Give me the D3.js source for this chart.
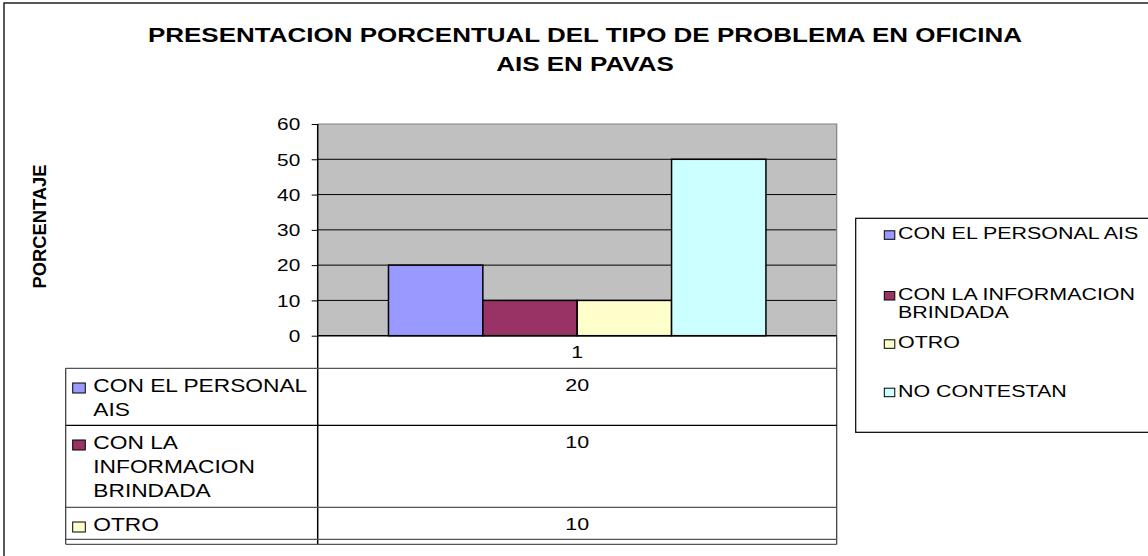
<!DOCTYPE html>
<html>
<head>
<meta charset="utf-8">
<script src="https://cdn.jsdelivr.net/npm/d3@7"></script>
<style>
  html, body { margin: 0; padding: 0; background: #fff; }
  svg { display: block; }
  text { font-family: "Liberation Sans", Arial, sans-serif; fill: #000; }
</style>
</head>
<body>
<svg id="chart" width="1148" height="556"></svg>
<script>
// ---------------- data ----------------
const categories = ["1"];
const seriesNames = ["CON EL PERSONAL AIS", "CON LA INFORMACION BRINDADA", "OTRO", "NO CONTESTAN"];
const seriesValues = [20, 10, 10, 50];
const seriesColors = ["#9999FF", "#993366", "#FFFFCC", "#CCFFFF"];
const yTicks = [0, 10, 20, 30, 40, 50, 60];
const titleLines = ["PRESENTACION PORCENTUAL DEL TIPO DE PROBLEMA EN OFICINA", "AIS EN PAVAS"];
const yAxisTitle = "PORCENTAJE";

// ---------------- layout ----------------
const SX = 1.3;            // horizontal stretch of the original picture
const L = 317.7, R = 836.7, T = 124, B = 335.7;
const tableLeft = 65.7, tableClipBottom = 544.3, headerRowH = 32.6;

const svg = d3.select("#chart");

function stext(parent, x, y, str, size, weight, anchor) {
  return parent.append("text")
    .attr("transform", `translate(${x},${y}) scale(${SX},1)`)
    .attr("text-anchor", anchor || "start")
    .style("font-size", size + "px")
    .style("font-weight", weight || "normal")
    .text(str);
}

// wrap words to fit a given (stretched) width
function wrapWords(str, size, maxW) {
  const probe = svg.append("text").style("font-size", size + "px");
  const words = str.split(" ");
  const lines = [];
  let cur = "";
  words.forEach(w => {
    const test = cur ? cur + " " + w : w;
    probe.text(test);
    if (probe.node().getComputedTextLength() * SX > maxW && cur) {
      lines.push(cur); cur = w;
    } else cur = test;
  });
  if (cur) lines.push(cur);
  probe.remove();
  return lines;
}

// outer chart border
svg.append("rect").attr("x", 4).attr("y", 3).attr("width", 1300).attr("height", 700)
  .attr("fill", "#fff").attr("stroke", "#222").attr("stroke-width", 1.5);

// title
titleLines.forEach((t, i) => stext(svg, 585, 42 + i * 28.5, t, 20, "bold", "middle"));

// y axis title
svg.append("text")
  .attr("transform", "translate(46,226.5) rotate(-90) scale(1.08,1.1)")
  .attr("text-anchor", "middle")
  .style("font-size", "17px").style("font-weight", "bold")
  .text(yAxisTitle);

// scales
const y = d3.scaleLinear().domain([0, 60]).range([B, T]);
const x0 = d3.scaleBand().domain(categories).range([L, R]).padding(0);
const x1 = d3.scaleBand().domain(seriesNames).range([0, x0.bandwidth()])
  .paddingInner(0).paddingOuter(0.75);
const color = d3.scaleOrdinal().domain(seriesNames).range(seriesColors);

// plot background
svg.append("rect").attr("x", L).attr("y", T).attr("width", R - L).attr("height", B - T)
  .attr("fill", "#C0C0C0");

// gridlines
svg.append("g").selectAll("line").data(yTicks.filter(v => v > 0 && v < 60)).join("line")
  .attr("x1", L).attr("x2", R).attr("y1", d => y(d)).attr("y2", d => y(d))
  .attr("stroke", "#000").attr("stroke-width", 1);

// plot border top/right
svg.append("path").attr("d", `M${L},${T}H${R}V${B}`).attr("fill", "none")
  .attr("stroke", "#808080").attr("stroke-width", 1.2);

// bars
const rows = categories.map(c => seriesNames.map((s, i) => ({ cat: c, name: s, value: seriesValues[i] })));
svg.append("g").selectAll("g").data(rows).join("g")
  .attr("transform", (d, i) => `translate(${x0(categories[i])},0)`)
  .selectAll("rect").data(d => d).join("rect")
  .attr("x", d => x1(d.name)).attr("width", x1.bandwidth())
  .attr("y", d => y(d.value)).attr("height", d => y(0) - y(d.value))
  .attr("fill", d => color(d.name)).attr("stroke", "#000").attr("stroke-width", 1.5);

// y axis
const yAxis = svg.append("g").attr("transform", `translate(${L},0)`)
  .call(d3.axisLeft(y).tickValues(yTicks).tickSize(6).tickSizeOuter(0));
yAxis.select(".domain").remove();
yAxis.selectAll(".tick line").attr("stroke", "#000");
yAxis.selectAll(".tick text")
  .attr("x", -17.5 / SX).attr("dy", "0.36em")
  .attr("transform", `scale(${SX},1)`)
  .style("font-size", "16px").style("font-family", "'Liberation Sans', Arial, sans-serif");

// category axis (label "1")
const xAxis = svg.append("g").attr("transform", `translate(0,${B})`)
  .call(d3.axisBottom(x0).tickSize(0));
xAxis.select(".domain").remove();
xAxis.selectAll(".tick text").attr("y", 0).attr("dy", 0)
  .attr("transform", `translate(0,22.5) scale(${SX},1)`)
  .style("font-size", "16.5px").style("font-family", "'Liberation Sans', Arial, sans-serif");

// axis lines
svg.append("line").attr("x1", L).attr("x2", R).attr("y1", B).attr("y2", B)
  .attr("stroke", "#000").attr("stroke-width", 1.5);
svg.append("line").attr("x1", L).attr("x2", L).attr("y1", T).attr("y2", tableClipBottom)
  .attr("stroke", "#000").attr("stroke-width", 1.5);
svg.append("line").attr("x1", R).attr("x2", R).attr("y1", B).attr("y2", tableClipBottom)
  .attr("stroke", "#333").attr("stroke-width", 1.2);

// ---------------- data table ----------------
svg.append("clipPath").attr("id", "tclip").append("rect")
  .attr("x", 0).attr("y", 0).attr("width", 1148).attr("height", tableClipBottom);
const tg = svg.append("g").attr("clip-path", "url(#tclip)");

let yc = B + headerRowH;
const TFS = 17.5;
seriesNames.forEach((name, i) => {
  const lines = wrapWords(name, TFS, 225);
  const h = 25 * lines.length + 7;
  tg.append("line").attr("x1", tableLeft).attr("x2", R).attr("y1", yc).attr("y2", yc)
    .attr("stroke", i === 1 ? "#000" : "#555").attr("stroke-width", 1.2);
  // rows that start below the visible area are cut off by the chart frame
  if (yc + 24 < tableClipBottom) {
    tg.append("rect").attr("x", 72.7).attr("y", yc + 14.7).attr("width", 12.6).attr("height", 10)
      .attr("fill", seriesColors[i]).attr("stroke", "#000").attr("stroke-width", 1);
    lines.forEach((ln, k) => stext(tg, 93.3, yc + 24 + k * 24, ln, TFS, "normal", "start"));
    categories.forEach(c => {
      stext(tg, x0(c) + x0.bandwidth() / 2, yc + 23, String(seriesValues[i]), 16.5, "normal", "middle");
    });
  }
  yc += h;
});
svg.append("line").attr("x1", tableLeft).attr("x2", tableLeft).attr("y1", B + headerRowH).attr("y2", tableClipBottom)
  .attr("stroke", "#333").attr("stroke-width", 1.2);
svg.append("line").attr("x1", tableLeft).attr("x2", R).attr("y1", tableClipBottom).attr("y2", tableClipBottom)
  .attr("stroke", "#555").attr("stroke-width", 1.2);

// ---------------- legend ----------------
const lg = svg.append("g");
lg.append("rect").attr("x", 855.7).attr("y", 218.3).attr("width", 400).attr("height", 214)
  .attr("fill", "#fff").attr("stroke", "#000").attr("stroke-width", 1.2);
const legendBaselines = [239.3, 300, 348.3, 396.7];
seriesNames.forEach((name, i) => {
  const lines = wrapWords(name, 16.5, 250);
  const by = legendBaselines[i];
  lg.append("rect").attr("x", 884.3).attr("y", by - 8.5).attr("width", 10.5).attr("height", 8.5)
    .attr("fill", seriesColors[i]).attr("stroke", "#000").attr("stroke-width", 1);
  lines.forEach((ln, k) => stext(lg, 898, by + k * 17.5, ln, 16.5, "normal", "start"));
});
</script>
</body>
</html>
